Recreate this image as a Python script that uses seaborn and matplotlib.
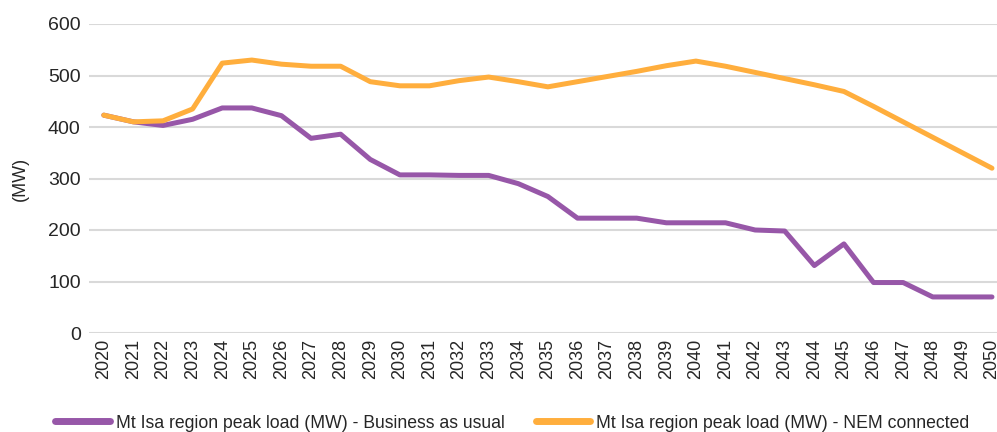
import matplotlib
matplotlib.use("Agg")
import matplotlib.pyplot as plt
import seaborn as sns
import pandas as pd

years = [str(y) for y in range(2020, 2051)]
bau = [423, 410, 403, 415, 437, 437, 422, 378, 386, 337, 307, 307, 306, 306, 290, 265,
       223, 223, 223, 214, 214, 214, 200, 198, 131, 173, 98, 98, 70, 70, 70]
nem = [423, 410, 412, 435, 524, 530, 522, 518, 518, 488, 480, 480, 490, 497, 488, 478,
       488, 498, 508, 519, 528, 518, 506, 494, 482, 469, 440, 410, 380, 350, 320]
series_names = ["Mt Isa region peak load (MW) - Business as usual",
                "Mt Isa region peak load (MW) - NEM connected"]
colors = ["#9757A8", "#FFAE3D"]
y_ticks = [0, 100, 200, 300, 400, 500, 600]

sns.set_theme(style="white")
plt.rcParams['font.family'] = ['Liberation Sans', 'DejaVu Sans']

df = pd.DataFrame({
    "Year": years * 2,
    "Load": bau + nem,
    "Series": [series_names[0]] * len(years) + [series_names[1]] * len(years),
})

fig = plt.figure(figsize=(9.97, 4.32), dpi=100)
ax = fig.add_axes([89 / 997, 1 - 333 / 432, (997 - 89) / 997, (333 - 24) / 432])

sns.lineplot(data=df, x="Year", y="Load", hue="Series", palette=colors,
             linewidth=3.6, ax=ax, sort=False, solid_capstyle="round")

ax.set_ylim(0, 600)
ax.set_xlim(-0.5, 30.17)
ax.set_yticks(y_ticks)
ax.set_yticklabels([str(v) for v in y_ticks], fontsize=14)
ax.tick_params(axis="x", labelrotation=90, labelsize=13, pad=4, length=0)
ax.tick_params(axis="y", pad=6, length=0)
ax.grid(axis="y", color="#D9D9D9", linewidth=1.5)
ax.set_axisbelow(True)
for s in ax.spines.values():
    s.set_visible(False)
ax.set_xlabel("")
ax.set_ylabel("(MW)", fontsize=13)
ax.yaxis.set_label_coords(-60 / 908, 0.5)

handles, labels = ax.get_legend_handles_labels()
if ax.legend_:
    ax.legend_.remove()
leg = fig.legend(handles, labels, loc="center", bbox_to_anchor=(0.514, 1 - 423 / 432),
                 ncol=2, frameon=False, fontsize=12.7, handlelength=3.1,
                 columnspacing=1.75, handletextpad=0.34)
for h in leg.get_lines():
    h.set_linewidth(5)

fig.savefig("out.png", dpi=100)
